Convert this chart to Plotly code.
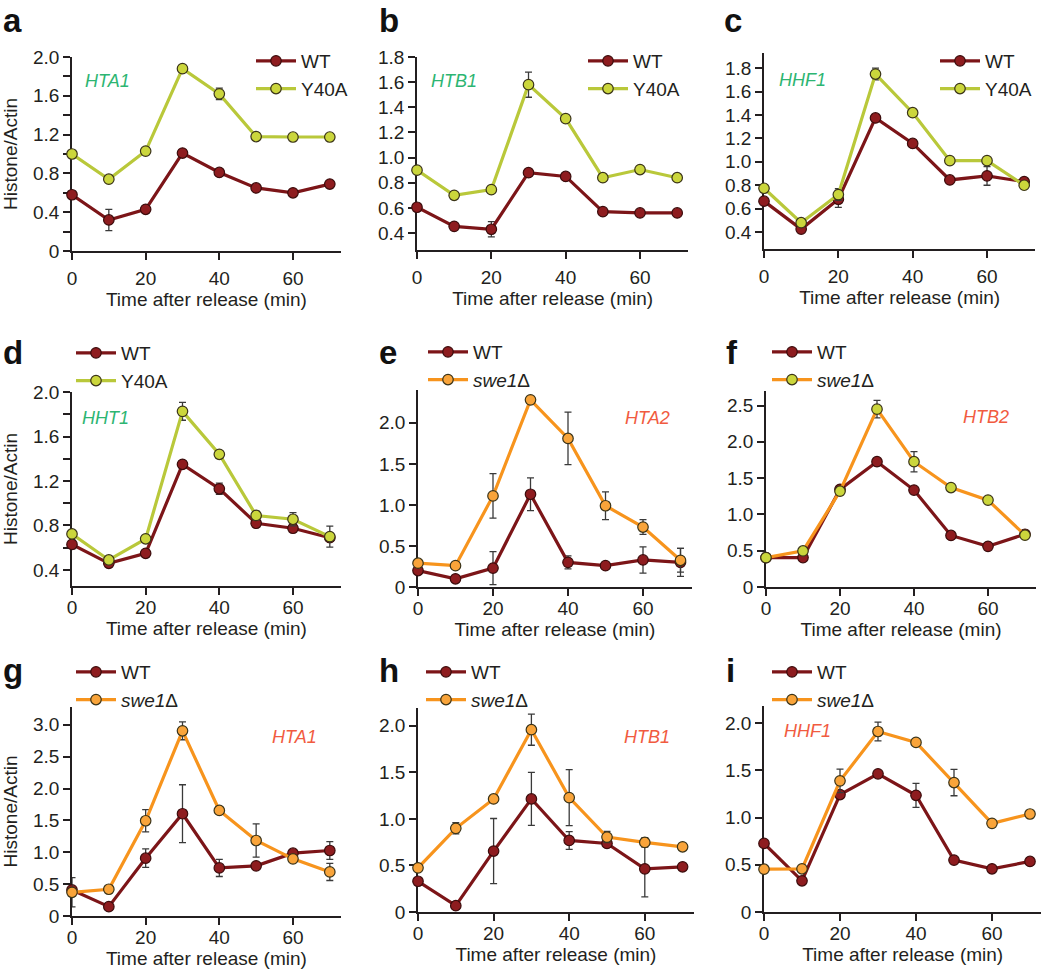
import plotly.graph_objects as go

# ---------------- data ----------------
time_min = [0, 10, 20, 30, 40, 50, 60, 70]

a_wt = [0.58, 0.32, 0.43, 1.01, 0.81, 0.65, 0.60, 0.69]
a_wt_err = [0.02, 0.11, 0.02, 0.02, 0.02, 0.02, 0.02, 0.02]
a_y40a = [1.00, 0.74, 1.03, 1.88, 1.62, 1.18, 1.175, 1.175]
a_y40a_err = [0.02, 0.02, 0.02, 0.02, 0.06, 0.04, 0.03, 0.02]

b_wt = [0.605, 0.453, 0.43, 0.88, 0.85, 0.57, 0.56, 0.56]
b_wt_err = [0.01, 0.01, 0.06, 0.01, 0.01, 0.01, 0.01, 0.01]
b_y40a = [0.90, 0.70, 0.745, 1.58, 1.31, 0.84, 0.905, 0.84]
b_y40a_err = [0.01, 0.01, 0.01, 0.10, 0.01, 0.02, 0.01, 0.02]

c_wt = [0.664, 0.425, 0.68, 1.375, 1.157, 0.845, 0.88, 0.83]
c_wt_err = [0.02, 0.02, 0.07, 0.03, 0.01, 0.01, 0.08, 0.02]
c_y40a = [0.774, 0.48, 0.72, 1.75, 1.42, 1.01, 1.01, 0.80]
c_y40a_err = [0.03, 0.03, 0.05, 0.05, 0.01, 0.02, 0.01, 0.02]

d_wt = [0.63, 0.46, 0.55, 1.35, 1.13, 0.82, 0.775, 0.69]
d_wt_err = [0.04, 0.01, 0.01, 0.01, 0.05, 0.01, 0.02, 0.02]
d_y40a = [0.724, 0.49, 0.68, 1.826, 1.44, 0.89, 0.856, 0.70]
d_y40a_err = [0.02, 0.02, 0.01, 0.08, 0.03, 0.04, 0.06, 0.095]

e_wt = [0.20, 0.10, 0.23, 1.13, 0.30, 0.26, 0.33, 0.30]
e_wt_err = [0.02, 0.02, 0.20, 0.20, 0.08, 0.04, 0.16, 0.17]
e_swe1 = [0.29, 0.26, 1.11, 2.28, 1.81, 0.99, 0.73, 0.325]
e_swe1_err = [0.02, 0.02, 0.27, 0.02, 0.32, 0.17, 0.09, 0.145]

f_wt = [0.405, 0.405, 1.345, 1.726, 1.335, 0.71, 0.56, 0.727]
f_wt_err = [0.02, 0.02, 0.05, 0.02, 0.02, 0.02, 0.02, 0.02]
f_swe1 = [0.405, 0.497, 1.32, 2.45, 1.726, 1.37, 1.197, 0.714]
f_swe1_err = [0.02, 0.02, 0.05, 0.12, 0.14, 0.02, 0.02, 0.02]

g_wt = [0.41, 0.147, 0.907, 1.605, 0.755, 0.787, 0.986, 1.028]
g_wt_err = [0.02, 0.02, 0.145, 0.455, 0.135, 0.05, 0.02, 0.14]
g_swe1 = [0.372, 0.42, 1.495, 2.906, 1.657, 1.185, 0.897, 0.692]
g_swe1_err = [0.23, 0.02, 0.175, 0.14, 0.04, 0.26, 0.02, 0.135]

h_wt = [0.33, 0.068, 0.654, 1.214, 0.768, 0.736, 0.463, 0.485]
h_wt_err = [0.02, 0.04, 0.35, 0.285, 0.095, 0.02, 0.30, 0.02]
h_swe1 = [0.474, 0.898, 1.214, 1.957, 1.228, 0.804, 0.747, 0.70]
h_swe1_err = [0.02, 0.06, 0.02, 0.167, 0.30, 0.06, 0.05, 0.03]

i_wt = [0.726, 0.33, 1.243, 1.462, 1.235, 0.549, 0.457, 0.535]
i_wt_err = [0.02, 0.02, 0.02, 0.02, 0.127, 0.03, 0.02, 0.02]
i_swe1 = [0.453, 0.457, 1.388, 1.91, 1.795, 1.37, 0.938, 1.037]
i_swe1_err = [0.02, 0.02, 0.124, 0.10, 0.02, 0.14, 0.03, 0.02]

x_tickvals = [0, 20, 40, 60]
x_ticktext = ["0", "20", "40", "60"]

ticks_a = [0, 0.4, 0.8, 1.2, 1.6, 2.0]
ticktext_a = ["0", "0.4", "0.8", "1.2", "1.6", "2.0"]
minor_a = [0.2, 0.6, 1.0, 1.4, 1.8]
ticks_bc = [0.4, 0.6, 0.8, 1.0, 1.2, 1.4, 1.6, 1.8]
ticktext_bc = ["0.4", "0.6", "0.8", "1.0", "1.2", "1.4", "1.6", "1.8"]
ticks_d = [0.4, 0.8, 1.2, 1.6, 2.0]
ticktext_d = ["0.4", "0.8", "1.2", "1.6", "2.0"]
minor_d = [0.6, 1.0, 1.4, 1.8]
ticks_2 = [0, 0.5, 1.0, 1.5, 2.0]
ticktext_2 = ["0", "0.5", "1.0", "1.5", "2.0"]
ticks_25 = [0, 0.5, 1.0, 1.5, 2.0, 2.5]
ticktext_25 = ["0", "0.5", "1.0", "1.5", "2.0", "2.5"]
ticks_3 = [0, 0.5, 1.0, 1.5, 2.0, 2.5, 3.0]
ticktext_3 = ["0", "0.5", "1.0", "1.5", "2.0", "2.5", "3.0"]

gene_names = ["HTA1", "HTB1", "HHF1", "HHT1", "HTA2", "HTB2", "HTA1", "HTB1", "HHF1"]
panel_letters = ["a", "b", "c", "d", "e", "f", "g", "h", "i"]
wt_name = "WT"
y40a_name = "Y40A"
swe1_name = "<i>swe1</i>Δ"
x_title = "Time after release (min)"
y_title = "Histone/Actin"

# ---------------- styles / layout ----------------
W, H = 1050, 970
FONT = "Liberation Sans, Arial, Helvetica, sans-serif"
TXT = "#231f20"
WT_LINE, WT_FILL = "#7c1518", "#8e1c1f"
Y_LINE, Y_FILL = "#b9c83a", "#cbd63c"
S_LINE, S_FILL = "#f7941d", "#f9a43a"
GREEN = "#2db572"
RED = "#f15b40"
FS = 19

def px(x):
    return x / W

def py(y):
    return 1 - y / H

panels = [
    dict(wt=a_wt, wte=a_wt_err, mu=a_y40a, mue=a_y40a_err, mname=y40a_name, mline=Y_LINE, mfill=Y_FILL,
         x0=72, ppm=3.683, yt=57, yb=251, yr=[0, 2.0], tv=ticks_a, tt=ticktext_a, minor=minor_a,
         leg=(251, 42), gene=(83, 81), gcol=GREEN, letter=(1, 20), ytitle=True, xls=2, xts=2),
    dict(wt=b_wt, wte=b_wt_err, mu=b_y40a, mue=b_y40a_err, mname=y40a_name, mline=Y_LINE, mfill=Y_FILL,
         x0=417, ppm=3.717, yt=57, yb=250, yr=[0.265, 1.8], tv=ticks_bc, tt=ticktext_bc, minor=None,
         leg=(583, 42), gene=(429, 81), gcol=GREEN, letter=(377, 20), ytitle=False, xls=2, xts=2),
    dict(wt=c_wt, wte=c_wt_err, mu=c_y40a, mue=c_y40a_err, mname=y40a_name, mline=Y_LINE, mfill=Y_FILL,
         x0=764, ppm=3.717, yt=53, yb=249, yr=[0.255, 1.93], tv=ticks_bc, tt=ticktext_bc, minor=None,
         leg=(935, 42), gene=(777, 80), gcol=GREEN, letter=(722, 20), ytitle=False, xls=2, xts=2),
    dict(wt=d_wt, wte=d_wt_err, mu=d_y40a, mue=d_y40a_err, mname=y40a_name, mline=Y_LINE, mfill=Y_FILL,
         x0=72, ppm=3.683, yt=392, yb=586, yr=[0.256, 2.0], tv=ticks_d, tt=ticktext_d, minor=minor_d,
         leg=(71, 334), gene=(80, 418), gcol=GREEN, letter=(1, 352), ytitle=True, xls=-4, xts=5),
    dict(wt=e_wt, wte=e_wt_err, mu=e_swe1, mue=e_swe1_err, mname=swe1_name, mline=S_LINE, mfill=S_FILL,
         x0=418, ppm=3.75, yt=390, yb=587, yr=[0, 2.4], tv=ticks_2, tt=ticktext_2, minor=None,
         leg=(423, 333), gene=(623, 418), gcol=RED, letter=(377, 352), ytitle=False, xls=-4, xts=5),
    dict(wt=f_wt, wte=f_wt_err, mu=f_swe1, mue=f_swe1_err, mname=swe1_name, mline=S_LINE, mfill=Y_FILL,
         x0=766, ppm=3.70, yt=391, yb=587, yr=[0, 2.7], tv=ticks_25, tt=ticktext_25, minor=None,
         leg=(767, 333), gene=(961, 417), gcol=RED, letter=(724, 352), ytitle=False, xls=-4, xts=5),
    dict(wt=g_wt, wte=g_wt_err, mu=g_swe1, mue=g_swe1_err, mname=swe1_name, mline=S_LINE, mfill=S_FILL,
         x0=72, ppm=3.683, yt=707, yb=916, yr=[0, 3.28], tv=ticks_3, tt=ticktext_3, minor=None,
         leg=(71, 653), gene=(270, 737), gcol=RED, letter=(1, 670), ytitle=True, xls=-4, xts=5),
    dict(wt=h_wt, wte=h_wt_err, mu=h_swe1, mue=h_swe1_err, mname=swe1_name, mline=S_LINE, mfill=S_FILL,
         x0=418, ppm=3.78, yt=708, yb=912, yr=[0, 2.19], tv=ticks_2, tt=ticktext_2, minor=None,
         leg=(421, 653), gene=(622, 737), gcol=RED, letter=(377, 670), ytitle=False, xls=-4, xts=5),
    dict(wt=i_wt, wte=i_wt_err, mu=i_swe1, mue=i_swe1_err, mname=swe1_name, mline=S_LINE, mfill=S_FILL,
         x0=764, ppm=3.80, yt=706, yb=912, yr=[0, 2.18], tv=ticks_2, tt=ticktext_2, minor=None,
         leg=(767, 653), gene=(782, 731), gcol=RED, letter=(724, 670), ytitle=False, xls=-4, xts=5),
]

X_MAX = 73
fig = go.Figure()
layout = dict(
    template="none",
    width=W, height=H, autosize=False,
    margin=dict(l=0, r=0, t=0, b=0, pad=0, autoexpand=False),
    paper_bgcolor="white", plot_bgcolor="white",
    font=dict(family=FONT, size=FS, color=TXT),
    showlegend=True,
)
annotations = []

for k, p in enumerate(panels):
    n = k + 1
    sfx = "" if n == 1 else str(n)
    xa, ya = "x" + sfx, "y" + sfx
    leg = "legend" + sfx
    err_style = dict(type="data", color="#3a3a3a", thickness=1.3, width=3.5)
    fig.add_trace(go.Scatter(
        x=time_min, y=p["wt"], name=wt_name, mode="lines+markers",
        line=dict(color=WT_LINE, width=3.2),
        marker=dict(size=10.5, color=WT_FILL, line=dict(color="#3b0c0c", width=1.2)),
        error_y=dict(array=p["wte"], **err_style),
        xaxis=xa, yaxis=ya, legend=leg, cliponaxis=False))
    fig.add_trace(go.Scatter(
        x=time_min, y=p["mu"], name=p["mname"], mode="lines+markers",
        line=dict(color=p["mline"], width=3.2),
        marker=dict(size=10.5, color=p["mfill"], line=dict(color="#3a3318", width=1.2)),
        error_y=dict(array=p["mue"], **err_style),
        xaxis=xa, yaxis=ya, legend=leg, cliponaxis=False))

    x1 = p["x0"] + X_MAX * p["ppm"]
    axcommon = dict(
        showgrid=False, zeroline=False, showline=True, linecolor=TXT, linewidth=1.6,
        ticks="outside", ticklen=7, tickwidth=1.5, tickcolor=TXT,
        tickfont=dict(family=FONT, size=FS, color=TXT), layer="below traces",
        fixedrange=True, automargin=False,
    )
    layout["xaxis" + sfx] = dict(
        axcommon, domain=[px(p["x0"]), px(x1)], range=[0, X_MAX], anchor=ya,
        tickmode="array", tickvals=x_tickvals, ticktext=x_ticktext, ticklabelstandoff=p["xls"],
        title=dict(text=x_title, font=dict(family=FONT, size=FS, color=TXT), standoff=p["xts"]),
    )
    yax = dict(
        axcommon, domain=[py(p["yb"]), py(p["yt"])], range=p["yr"], anchor=xa,
        tickmode="array", tickvals=p["tv"], ticktext=p["tt"],
    )
    if p["minor"]:
        yax["minor"] = dict(tickmode="array", tickvals=p["minor"], ticks="outside",
                            ticklen=7, tickwidth=1.5, tickcolor=TXT)
    if p["ytitle"]:
        yax["title"] = dict(text=y_title, font=dict(family=FONT, size=FS, color=TXT), standoff=10)
    layout["yaxis" + sfx] = yax

    lx, ly = p["leg"]
    layout[leg] = dict(
        x=px(lx), y=py(ly), xanchor="left", yanchor="top", xref="paper", yref="paper",
        bgcolor="rgba(0,0,0,0)", borderwidth=0, font=dict(family=FONT, size=FS, color=TXT),
        tracegroupgap=0, itemwidth=40, itemclick=False, itemdoubleclick=False,
    )

    gx, gy = p["gene"]
    annotations.append(dict(
        text="<i>" + gene_names[k] + "</i>", x=px(gx), y=py(gy), xref="paper", yref="paper",
        xanchor="left", yanchor="middle", showarrow=False,
        font=dict(family=FONT, size=18, color=p["gcol"])))
    lx2, ly2 = p["letter"]
    annotations.append(dict(
        text="<b>" + panel_letters[k] + "</b>", x=px(lx2), y=py(ly2), xref="paper", yref="paper",
        xanchor="left", yanchor="middle", showarrow=False,
        font=dict(family=FONT, size=33, color="#111111")))

layout["annotations"] = annotations
fig.update_layout(**layout)
fig.write_html("out.html", config={"displayModeBar": False},
               post_script="document.body.style.margin='0';")
